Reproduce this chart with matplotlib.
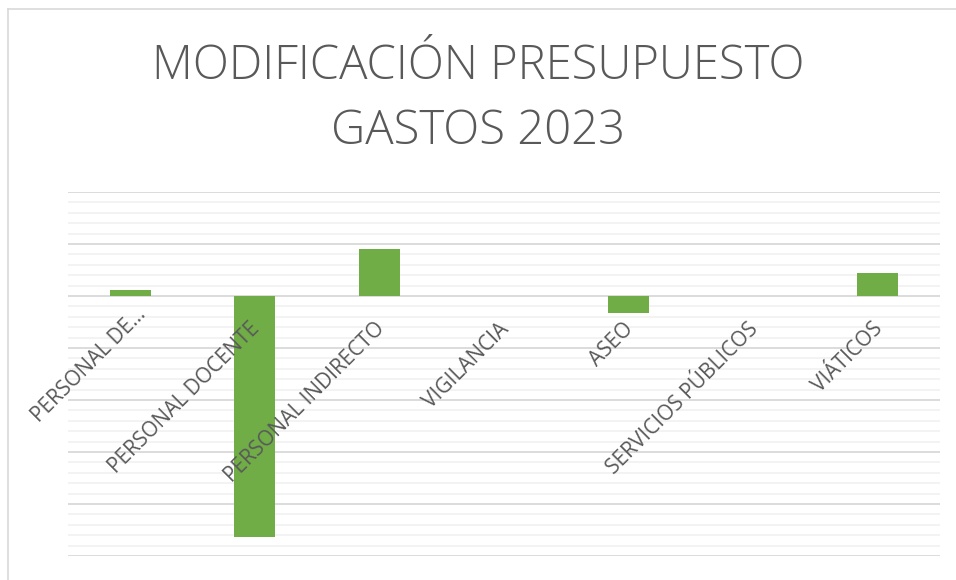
import numpy as np
import matplotlib
matplotlib.use("Agg")
import matplotlib.pyplot as plt
import matplotlib.transforms as mtransforms
from matplotlib.lines import Line2D
from matplotlib.ticker import MultipleLocator

# data (arbitrary units - axis has no labels)
categories = ["PERSONAL DE…", "PERSONAL DOCENTE", "PERSONAL INDIRECTO", "VIGILANCIA",
              "ASEO", "SERVICIOS PÚBLICOS", "VIÁTICOS"]
values = [11, -463, 90, 0.5, -33, 0.5, 44]

text_color = "#595959"
bar_color = "#70AD47"

fig = plt.figure(figsize=(9.56, 5.8), dpi=100)
ax = fig.add_axes([68 / 956, 1 - 556 / 580, (940 - 68) / 956, (556 - 192) / 580])

x = np.arange(len(categories))
ax.bar(x, values, width=0.33, color=bar_color, zorder=3)

ax.set_xlim(-0.5, len(categories) - 0.5)
ax.set_ylim(-500, 200)
ax.yaxis.set_major_locator(MultipleLocator(100))
ax.yaxis.set_minor_locator(MultipleLocator(20))
ax.grid(axis="y", which="major", color="#D9D9D9", linewidth=1.3)
ax.grid(axis="y", which="minor", color="#F2F2F2", linewidth=1.3)
ax.tick_params(axis="y", which="both", left=False, labelleft=False)
# gridlines under the bars, category labels over them
ax.yaxis.set_zorder(0.5)
ax.xaxis.set_zorder(4)

for side in ["top", "right", "left"]:
    ax.spines[side].set_visible(False)
ax.spines["bottom"].set_position(("data", 0))
ax.spines["bottom"].set_visible(False)

ax.set_xticks(x)
ax.set_xticklabels(categories, rotation=45, ha="right", va="center",
                   rotation_mode="anchor", fontsize=15, color=text_color,
                   family="Open Sans")
ax.tick_params(axis="x", length=0, pad=0)
for i, lab in enumerate(ax.get_xticklabels()):
    if i == 0:
        off = mtransforms.ScaledTranslation(0.13, -0.15, fig.dpi_scale_trans)
    else:
        off = mtransforms.ScaledTranslation(0.02, -0.30, fig.dpi_scale_trans)
    lab.set_transform(lab.get_transform() + off)

fig.text(0.5, 1 - 99 / 580, "MODIFICACIÓN PRESUPUESTO\nGASTOS 2023", ha="center",
         va="center", fontsize=34, color=text_color, family="Open Sans",
         fontweight="light", linespacing=1.45)

# chart frame
fig.add_artist(Line2D([8 / 956, 8 / 956], [0, 1 - 9 / 580], color="#D9D9D9", linewidth=1.2))
fig.add_artist(Line2D([8 / 956, 1], [1 - 9 / 580, 1 - 9 / 580], color="#D9D9D9", linewidth=1.2))

fig.savefig("out.png", dpi=100, facecolor="white")
